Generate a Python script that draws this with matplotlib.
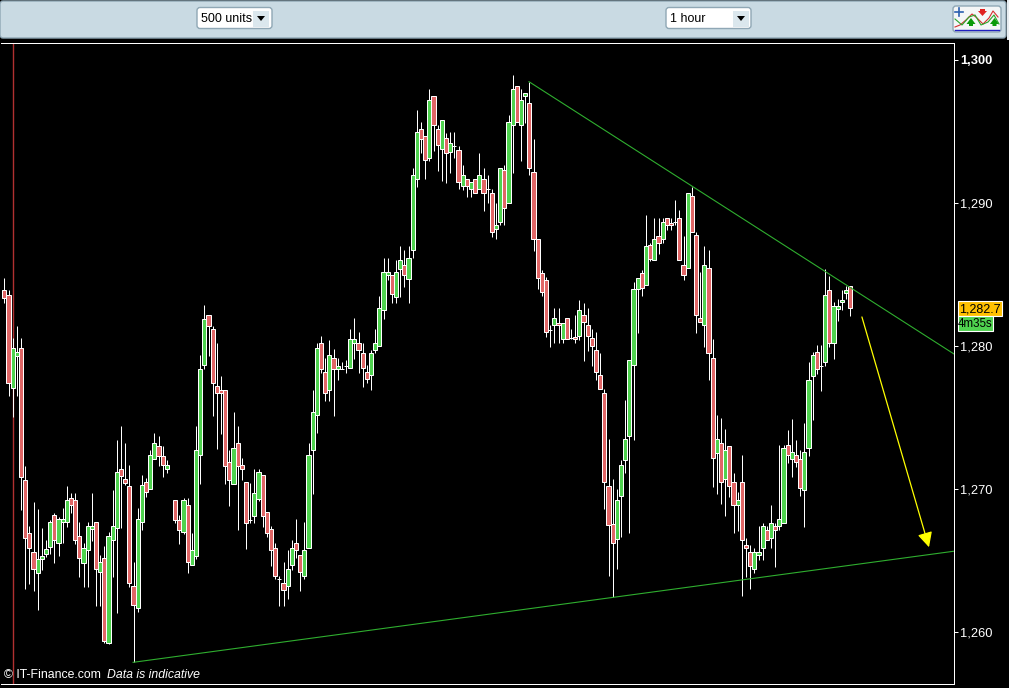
import numpy as np
import matplotlib
matplotlib.use("Agg")
import matplotlib.pyplot as plt
from matplotlib.patches import FancyBboxPatch, Rectangle, Polygon

nan = float("nan")

# цены свечей (nan - пропуск в торгах)
open_prices = [
    1283.92, 1283.57, 1277.06, 1279.30, 1279.86, 1270.62, 1266.91, 1265.58, 1264.11, 1265.09,
    1265.44, 1265.93, 1268.17, 1266.21, 1267.68, 1267.68, 1269.36, 1269.22, 1266.70, 1264.81,
    1265.72, 1267.19, 1267.68, 1264.18, 1265.16, 1259.21, 1266.42, 1267.26, 1271.39, 1270.69,
    1270.20, 1263.20, 1261.66, 1267.68, 1270.48, 1269.99, 1272.09, 1273.00, 1272.30, 1271.39,
    nan, 1269.22, 1267.82, 1266.98, 1268.87, 1264.67, 1265.30, 1272.37, 1278.67, 1282.17,
    1281.19, 1277.20, 1276.92, 1276.92, 1271.88, 1270.34, 1273.21, 1271.67, 1270.48, 1267.85,
    1268.10, 1269.29, 1270.97, 1268.38, 1267.19, 1265.86, 1263.69, 1263.41, 1263.20, 1264.67,
    1266.21, 1265.37, 1263.90, 1265.86, 1272.72, 1275.17, 1280.21, 1278.18, 1276.92, 1279.16,
    1278.39, 1278.39, 1278.60, 1278.46, 1280.21, 1280.21, 1279.51, 1278.18, 1277.97, 1279.72,
    1280.00, 1282.52, 1284.97, 1284.97, 1283.43, 1285.39, 1285.67, 1284.69, 1286.72, 1291.69,
    1295.19, 1294.70, 1293.16, 1297.50, 1295.19, 1293.79, 1294.56, 1293.58, 1294.00, 1293.72,
    1291.20, 1291.69, 1290.99, 1291.69, 1290.99, 1291.69, 1290.99, 1290.71, 1288.19, 1288.68,
    1292.32, 1290.01, 1295.47, 1298.20, 1295.47, 1297.50, 1297.01, 1292.18, 1287.49, 1285.11,
    1284.62, 1281.12, 1281.47, 1281.61, 1280.49, 1281.96, 1280.56, 1280.63, 1280.70, 1282.17,
    1281.47, 1280.56, 1279.72, 1277.97, 1276.71, 1270.20, 1267.54, 1266.49, 1269.50, 1272.02,
    1273.70, 1278.67, 1283.99, 1285.11, 1284.27, 1287.07, 1286.02, 1287.70, 1287.49, 1288.96,
    1288.61, 1288.68, 1288.96, 1285.67, 1285.46, 1290.50, 1287.77, 1281.96, 1281.47, 1285.46,
    1279.16, 1272.51, 1273.21, 1270.69, 1273.00, 1270.48, 1268.87, 1270.48, 1266.07, 1265.58,
    1264.39, 1265.37, 1265.86, 1267.12, 1266.56, 1267.40, 1267.40, 1267.61, 1273.07, 1272.09,
    1272.37, 1272.09, 1269.92, 1272.86, 1277.90, 1279.58, 1278.60, 1278.88, 1283.92, 1280.21,
    1282.59, 1283.08, 1283.71, 1284.20,
]
close_prices = [
    1283.36, 1277.41, 1279.86, 1279.58, 1270.83, 1266.56, 1265.86, 1264.39, 1265.09, 1265.30,
    1265.79, 1267.68, 1266.42, 1267.89, 1267.89, 1269.22, 1268.87, 1266.42, 1265.16, 1265.86,
    1267.40, 1267.40, 1264.39, 1264.88, 1259.35, 1266.70, 1267.40, 1271.18, 1270.90, 1270.41,
    1263.41, 1261.87, 1267.89, 1270.27, 1269.78, 1272.37, 1273.21, 1272.30, 1271.67, 1271.67,
    nan, 1267.82, 1267.12, 1269.22, 1264.88, 1265.72, 1272.72, 1278.39, 1281.89, 1281.40,
    1277.41, 1276.71, 1276.71, 1271.60, 1270.62, 1272.86, 1271.60, 1271.39, 1267.61, 1267.85,
    1269.71, 1271.18, 1268.10, 1266.91, 1265.72, 1263.90, 1263.69, 1262.92, 1264.39, 1265.86,
    1265.72, 1264.18, 1265.72, 1272.37, 1275.38, 1279.86, 1278.39, 1276.71, 1279.37, 1278.39,
    1278.60, 1278.39, 1278.60, 1280.49, 1280.49, 1279.72, 1278.46, 1277.69, 1279.51, 1280.21,
    1282.66, 1285.18, 1285.18, 1283.64, 1285.18, 1286.02, 1284.97, 1286.16, 1291.97, 1294.98,
    1294.49, 1293.02, 1297.22, 1295.47, 1294.07, 1295.82, 1293.51, 1294.21, 1294.00, 1291.48,
    1291.97, 1291.20, 1291.48, 1290.71, 1291.97, 1290.71, 1290.99, 1287.98, 1288.47, 1292.46,
    1289.66, 1295.68, 1297.99, 1295.68, 1297.22, 1297.71, 1292.46, 1287.49, 1284.76, 1283.78,
    1280.98, 1281.12, 1281.96, 1281.47, 1281.61, 1280.49, 1280.56, 1280.49, 1282.52, 1281.68,
    1280.70, 1280.00, 1278.18, 1276.99, 1270.48, 1267.47, 1266.21, 1269.22, 1271.67, 1273.49,
    1279.02, 1283.99, 1284.76, 1284.06, 1287.00, 1286.09, 1287.49, 1287.21, 1288.68, 1288.47,
    1288.47, 1288.68, 1286.02, 1284.97, 1290.71, 1287.98, 1282.17, 1281.68, 1285.67, 1279.51,
    1272.16, 1273.49, 1270.48, 1272.72, 1270.20, 1268.87, 1269.22, 1266.42, 1265.86, 1264.60,
    1265.58, 1265.58, 1267.40, 1266.42, 1267.61, 1267.12, 1267.89, 1272.86, 1272.37, 1272.58,
    1271.88, 1270.06, 1272.58, 1277.62, 1279.37, 1278.39, 1278.60, 1283.57, 1280.21, 1282.80,
    1282.80, 1283.22, 1283.92, 1282.66,
]
high_prices = [
    1284.76, 1283.92, 1280.56, 1281.40, 1280.56, 1271.60, 1267.40, 1269.08, 1268.59, 1267.26,
    1266.42, 1267.82, 1268.31, 1268.03, 1268.66, 1270.20, 1269.71, 1269.71, 1267.68, 1266.21,
    1267.68, 1269.71, 1267.68, 1265.37, 1266.00, 1266.98, 1269.92, 1273.42, 1274.40, 1273.21,
    1271.67, 1264.88, 1268.66, 1270.97, 1270.76, 1272.72, 1273.91, 1273.70, 1273.00, 1272.02,
    nan, 1269.22, 1268.17, 1269.36, 1269.36, 1266.91, 1274.40, 1279.37, 1282.87, 1282.17,
    1281.40, 1280.21, 1277.90, 1276.92, 1272.72, 1275.38, 1274.40, 1272.16, 1270.48, 1270.41,
    1271.39, 1271.39, 1270.97, 1268.38, 1267.40, 1266.21, 1263.90, 1264.88, 1265.72, 1266.42,
    1267.89, 1265.37, 1267.68, 1273.21, 1276.92, 1280.21, 1280.70, 1279.16, 1280.42, 1279.79,
    1279.16, 1278.88, 1279.02, 1281.19, 1281.96, 1280.98, 1280.21, 1278.67, 1279.72, 1281.19,
    1283.50, 1286.16, 1286.16, 1284.97, 1286.02, 1287.00, 1286.72, 1287.00, 1292.46, 1296.52,
    1295.68, 1294.70, 1297.99, 1297.50, 1295.47, 1295.82, 1294.91, 1294.98, 1294.98, 1294.00,
    1292.67, 1291.69, 1291.48, 1291.69, 1293.51, 1292.46, 1291.97, 1290.99, 1290.01, 1292.46,
    1292.67, 1296.17, 1298.97, 1298.20, 1297.99, 1297.71, 1298.48, 1294.49, 1287.49, 1285.32,
    1284.83, 1281.47, 1282.66, 1282.66, 1281.61, 1281.96, 1281.19, 1282.17, 1283.22, 1283.01,
    1282.66, 1281.19, 1280.98, 1279.51, 1276.99, 1273.49, 1270.69, 1269.99, 1272.02, 1276.22,
    1279.02, 1284.48, 1284.76, 1285.32, 1289.17, 1287.21, 1288.96, 1288.96, 1288.96, 1288.96,
    1288.96, 1290.22, 1289.52, 1287.70, 1290.71, 1291.13, 1287.98, 1285.18, 1287.00, 1286.72,
    1280.49, 1275.17, 1274.96, 1274.19, 1273.00, 1271.11, 1269.78, 1272.37, 1266.56, 1266.07,
    1265.86, 1267.40, 1267.61, 1267.40, 1268.87, 1267.61, 1273.07, 1273.07, 1274.12, 1274.89,
    1273.42, 1272.72, 1274.61, 1278.88, 1279.58, 1280.07, 1280.07, 1285.39, 1284.90, 1283.08,
    1283.29, 1283.92, 1284.20, 1284.20,
]
low_prices = [
    1283.01, 1276.50, 1275.03, 1276.50, 1268.52, 1262.99, 1263.34, 1262.85, 1261.52, 1264.32,
    1265.23, 1265.44, 1264.81, 1265.30, 1266.21, 1267.33, 1268.31, 1266.14, 1263.83, 1263.13,
    1263.13, 1266.35, 1261.80, 1261.80, 1259.21, 1259.14, 1263.83, 1261.31, 1267.26, 1270.27,
    1263.13, 1257.88, 1261.38, 1267.12, 1269.43, 1269.99, 1272.09, 1271.60, 1270.83, 1271.11,
    nan, 1267.61, 1266.14, 1266.84, 1264.11, 1264.67, 1265.09, 1270.34, 1278.39, 1279.30,
    1275.10, 1272.79, 1273.84, 1270.34, 1268.80, 1270.34, 1267.12, 1270.62, 1265.79, 1267.61,
    1267.61, 1269.15, 1267.33, 1266.63, 1264.60, 1263.69, 1261.80, 1261.80, 1262.29, 1264.32,
    1265.16, 1262.85, 1263.69, 1265.86, 1269.64, 1273.91, 1278.11, 1276.15, 1276.15, 1275.10,
    1277.62, 1278.39, 1278.11, 1278.46, 1279.09, 1278.11, 1277.13, 1277.41, 1276.92, 1279.51,
    1280.00, 1281.89, 1284.62, 1283.01, 1283.01, 1283.43, 1284.13, 1283.01, 1286.16, 1291.13,
    1293.51, 1291.69, 1292.95, 1293.65, 1292.25, 1291.55, 1291.41, 1292.11, 1293.16, 1290.99,
    1290.92, 1290.43, 1290.43, 1290.71, 1290.99, 1289.45, 1290.01, 1287.63, 1287.49, 1288.47,
    1288.47, 1290.01, 1292.11, 1295.68, 1292.95, 1295.61, 1291.97, 1286.65, 1283.99, 1283.50,
    1280.63, 1279.93, 1280.21, 1280.21, 1280.21, 1280.49, 1280.49, 1280.21, 1280.42, 1278.95,
    1279.65, 1278.60, 1277.62, 1276.99, 1268.59, 1263.90, 1262.43, 1264.39, 1266.63, 1271.11,
    1266.91, 1273.42, 1280.91, 1283.50, 1284.27, 1285.95, 1286.02, 1286.44, 1287.21, 1288.12,
    1288.12, 1288.47, 1286.02, 1284.62, 1285.46, 1287.98, 1280.91, 1281.68, 1279.93, 1277.62,
    1270.13, 1269.64, 1268.94, 1268.10, 1269.43, 1266.91, 1267.05, 1262.50, 1263.83, 1262.99,
    1264.11, 1265.02, 1265.02, 1266.42, 1265.86, 1264.53, 1267.12, 1267.61, 1271.81, 1270.83,
    1271.53, 1269.50, 1267.33, 1272.30, 1274.82, 1278.04, 1276.85, 1278.60, 1279.93, 1279.09,
    1281.75, 1282.52, 1283.29, 1282.10,
]

# трендовые линии и стрелка (индекс свечи, цена)
upper_line_x = [125.9, 227.9]
upper_line_y = [1298.48, 1279.44]
lower_line_x = [30.9, 227.9]
lower_line_y = [1257.88, 1265.65]
arrow_start = (205.8, 1282.03)
arrow_end = (221.9, 1265.93)
cursor_x = 2

y_ticks = [1260, 1270, 1280, 1290, 1300]
last_price = "1,282.7"
countdown = "4m35s"

W, H = 1009, 688
GREEN = "#4fd24f"
RED = "#e06666"
FONT = "Liberation Sans"
LW = 0.72  # один пиксель

plt.rcParams["font.family"] = FONT
fig = plt.figure(figsize=(W / 100, H / 100), dpi=100, facecolor="black")

# основной график
ax = fig.add_axes([1 / W, (H - 683.5) / H, 953 / W, 641 / H], facecolor="black")
x = np.arange(len(open_prices))
o = np.array(open_prices)
c = np.array(close_prices)
colors = [GREEN if c[i] > o[i] else RED for i in x]

ax.axvline(cursor_x, color="#b03030", lw=1.0, zorder=1, snap=True)
ax.vlines(x, low_prices, high_prices, color="white", lw=LW, zorder=2, snap=True)
bars = ax.bar(x, np.abs(c - o), bottom=np.minimum(o, c), width=1.0, color=colors,
              edgecolor="white", linewidth=LW, zorder=3)
for bar in bars:
    bar.set_snap(True)

ax.plot(upper_line_x, upper_line_y, color="#2fae2f", lw=0.8, zorder=4)
ax.plot(lower_line_x, lower_line_y, color="#2fae2f", lw=0.8, zorder=4)
ax.annotate("", xy=arrow_end, xytext=arrow_start, zorder=5,
            arrowprops=dict(arrowstyle="-|>,head_length=0.9,head_width=0.45", color="#ffff00",
                            lw=0.9, shrinkA=0, shrinkB=0, mutation_scale=10))

ax.set_xlim(-0.8, 227.9)
ax.set_ylim(1256.4, 1301.22)
ax.set_xticks([])
ax.yaxis.tick_right()
ax.set_yticks(y_ticks)
ax.set_yticklabels([f"{t:,}" for t in y_ticks], fontsize=9.3, color="white")
ax.get_yticklabels()[-1].set_fontweight("bold")
ax.tick_params(axis="y", colors="white", length=3, width=LW, pad=1.5)
ax.spines["left"].set_visible(False)
for side in ["top", "right", "bottom"]:
    ax.spines[side].set_color("white")
    ax.spines[side].set_linewidth(LW)

ax.text(3 / 953, 8 / 641, "\u00a9 IT-Finance.com", transform=ax.transAxes, color="white",
        fontsize=8.8, va="center", zorder=6)
ax.text(106 / 953, 8 / 641, "Data is indicative", transform=ax.transAxes, color="white",
        fontsize=8.8, style="italic", va="center", zorder=6)

# панель сверху и подписи справа, в пикселях картинки
ui = fig.add_axes([0, 0, 1, 1], facecolor="none", zorder=10)
ui.set_xlim(0, W)
ui.set_ylim(H, 0)
ui.axis("off")

ui.add_patch(FancyBboxPatch((0, 1), 1006, 37, boxstyle="round,pad=0,rounding_size=3",
                            fc="#c9dae3", ec="#8fa7b5", lw=1))
ui.add_patch(Rectangle((1007, 0), 2, 40, fc="#e8eef2", ec="none"))


def combo(x0, x1, label, btn):
    ui.add_patch(FancyBboxPatch((x0, 7.5), x1 - x0, 21, boxstyle="round,pad=0,rounding_size=3",
                                fc="white", ec="#8fa7b5", lw=1))
    ui.add_patch(Rectangle((btn, 11), 16, 16, fc="#dbe7ed", ec="none"))
    ui.add_patch(Polygon([(btn + 4, 16), (btn + 12, 16), (btn + 8, 21)], fc="black", ec="none"))
    ui.text(x0 + 4, 18.5, label, fontsize=9, color="black", va="center")


combo(197, 272, "500 units", 253)
combo(666, 751, "1 hour", 733)

# значок справа на панели
ui.add_patch(FancyBboxPatch((953, 6), 48, 26, boxstyle="round,pad=0,rounding_size=3",
                            fc="#f4f6f7", ec="#8fa7b5", lw=1))
ui.plot([955, 960, 966, 972, 977, 983, 989, 993, 998], [27, 25, 20, 14, 18, 24, 18, 11, 17],
        color="#d62f2f", lw=0.8)
ui.plot([955, 962, 969, 975, 981, 988, 994, 999], [19, 25, 17, 15, 25, 22, 15, 24],
        color="#2aa52a", lw=0.8)
ui.plot([955, 999], [29.5, 29.5], color="#2020c0", lw=1)
ui.add_patch(Polygon([(971, 18), (975.5, 24), (973, 24), (973, 26), (969, 26), (969, 24), (966.5, 24)],
                     fc="#0a9a0a", ec="none"))
ui.add_patch(Polygon([(994.5, 18), (999, 24), (996.5, 24), (996.5, 26), (992.5, 26), (992.5, 24), (990, 24)],
                     fc="#0a9a0a", ec="none"))
ui.add_patch(Polygon([(982.5, 16), (987, 11), (985, 11), (985, 9), (980, 9), (980, 11), (978, 11)],
                     fc="#e02020", ec="none"))
ui.plot([959, 959], [8, 16], color="#2a5fb0", lw=1.2)
ui.plot([955, 963], [12, 12], color="#2a5fb0", lw=1.2)

# текущая цена и таймер
ui.add_patch(Rectangle((958, 301), 44, 15, fc="#ffc000", ec="white", lw=0.8))
ui.add_patch(Rectangle((958, 316), 34.5, 15, fc="#4fd24f", ec="white", lw=0.8))
ui.text(980, 309, last_price, fontsize=9, color="black", ha="center", va="center")
ui.text(975.5, 324, countdown, fontsize=8.3, color="black", ha="center", va="center")

# нижний край окна и обрезанные сверху цифры следующей подписи
ui.plot([0, 173], [687.5, 687.5], color="#9a9a9a", lw=LW)
ui.plot([173, 954], [687.5, 687.5], color="white", lw=LW)
for x0, x1 in [(963, 965), (968, 972), (975, 979)]:
    ui.plot([x0, x1], [687.5, 687.5], color="white", lw=LW)

fig.savefig("out.png", dpi=100, facecolor="black")
